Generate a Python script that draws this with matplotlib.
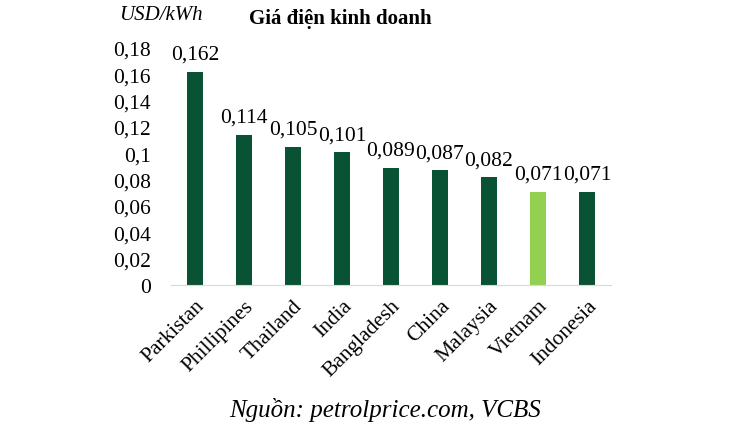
import matplotlib.pyplot as plt

countries = ['Parkistan', 'Phillipines', 'Thailand', 'India', 'Bangladesh',
             'China', 'Malaysia', 'Vietnam', 'Indonesia']
prices = [0.162, 0.114, 0.105, 0.101, 0.089, 0.087, 0.082, 0.071, 0.071]
yticks = [0, 0.02, 0.04, 0.06, 0.08, 0.1, 0.12, 0.14, 0.16, 0.18]
ytick_labels = ['0', '0,02', '0,04', '0,06', '0,08', '0,1', '0,12', '0,14', '0,16', '0,18']

dark = '#0a5234'
light = '#92d050'
colors = [light if c == 'Vietnam' else dark for c in countries]

plt.rcParams['font.family'] = ['Liberation Serif', 'DejaVu Serif']

fig = plt.figure(figsize=(7.5, 4.27), dpi=100)
ax = fig.add_axes([170.5 / 750, 1 - 286 / 427, 441 / 750, 237 / 427])

x = list(range(len(countries)))
ax.bar(x, prices, width=0.31, color=colors)
for xi, v in zip(x, prices):
    ax.text(xi, v + 0.006, ('%.3f' % v).replace('.', ','), ha='center', va='bottom', fontsize=15.5)

ax.set_xlim(-0.5, len(countries) - 0.5)
ax.set_ylim(0, 0.18)
ax.set_yticks(yticks)
ax.set_yticklabels(ytick_labels, fontsize=15.5)
ax.set_xticks(x)
ax.set_xticklabels(countries, rotation=45, ha='right', rotation_mode='anchor', fontsize=15.5)
ax.tick_params(axis='y', length=0, pad=14)
ax.tick_params(axis='x', length=0, pad=8)
for s in ['top', 'right', 'left']:
    ax.spines[s].set_visible(False)
ax.spines['bottom'].set_color('#d9d9d9')

fig.text(119 / 750, 1 - 15 / 427, 'USD/kWh', fontsize=15, style='italic', va='center')
fig.text(340 / 750, 1 - 19 / 427, 'Giá điện kinh doanh', fontsize=15, weight='bold',
         ha='center', va='center')
fig.text(385 / 750, 1 - 410 / 427, 'Nguồn: petrolprice.com, VCBS', fontsize=18,
         style='italic', ha='center', va='center')

fig.savefig('out.png', dpi=100)
